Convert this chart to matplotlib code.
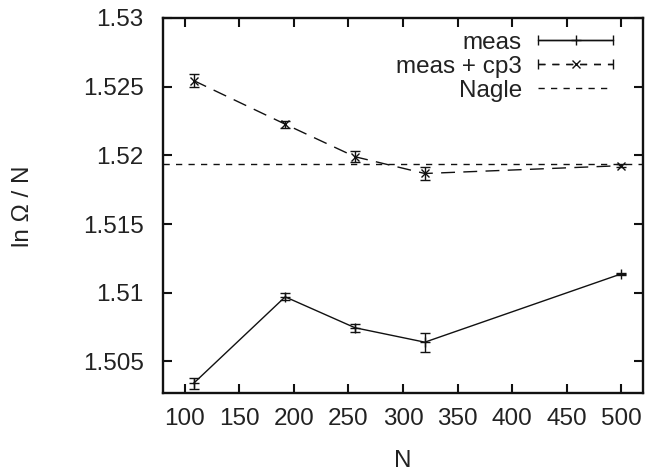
import numpy as np
import matplotlib
matplotlib.use("Agg")
import matplotlib.pyplot as plt
from matplotlib.lines import Line2D
from matplotlib.collections import LineCollection
from matplotlib.container import ErrorbarContainer
from matplotlib.legend_handler import HandlerErrorbar

# ---- data ----
N = [108, 192, 256, 320, 500]
meas = [1.5034, 1.5097, 1.50745, 1.5064, 1.51137]
meas_err = [0.0004, 0.00025, 0.0003, 0.0007, 0.0001]
cp3 = [1.52545, 1.52227, 1.5199, 1.51868, 1.51925]
cp3_err = [0.0005, 0.00025, 0.0004, 0.0005, 0.0001]
nagle = 1.51940
xticks = [100, 150, 200, 250, 300, 350, 400, 450, 500]
yticks = [1.505, 1.51, 1.515, 1.52, 1.525, 1.53]
ytick_labels = ["1.505", "1.51", "1.515", "1.52", "1.525", "1.53"]
labels = ["meas", "meas + cp3", "Nagle"]

plt.rcParams['font.family'] = ['Liberation Sans', 'DejaVu Sans']
FS = 17.5
W, H = 648, 472

fig = plt.figure(figsize=(W / 100, H / 100), dpi=100)
ax = fig.add_axes([163 / W, 1 - 393 / H, (643 - 163) / W, (393 - 18) / H])

k = '#111111'
tc = '#222222'
ax.errorbar(N, meas, yerr=meas_err, color=k, lw=1.0, marker='+', ms=7,
            mew=1.0, capsize=3.6, elinewidth=1.0, capthick=1.0)
ax.errorbar(N, cp3, yerr=cp3_err, color=k, lw=1.0, ls=(0, (10, 6)), marker='x',
            ms=6, mew=1.0, capsize=3.6, elinewidth=1.0, capthick=1.0)
ax.axhline(nagle, color=k, lw=1.0, ls=(0, (4.5, 4.5)))

ax.set_xlim(80, 520)
ax.set_ylim(1.5027, 1.53)
ax.set_xticks(xticks)
ax.set_yticks(yticks)
ax.set_yticklabels(ytick_labels)
ax.tick_params(direction='in', length=6.5, width=1.5, top=True, right=True,
               labelsize=FS, colors=k, labelcolor=tc)
ax.tick_params(axis='y', pad=14)
ax.tick_params(axis='x', pad=11)
for s in ax.spines.values():
    s.set_linewidth(1.7)
    s.set_color(k)

fig.text(403 / W, 1 - 467 / H, "N", fontsize=FS, color=tc,
         ha='center', va='baseline')
fig.text(23 / W, 1 - 206 / H, "ln Ω / N", fontsize=FS, color=tc,
         ha='center', va='center', rotation=90)

# legend handles (gnuplot style: horizontal line with end caps)
def make_proxy(ls, marker, ms, label):
    pl = Line2D([], [], color=k, lw=1.0, ls=ls, marker=marker, ms=ms, mew=1.0)
    cap = Line2D([], [], color=k, marker='|', ms=7, mew=1.0, ls='None')
    bc = LineCollection([], colors=k, linewidths=1.0, linestyles=[ls])
    return ErrorbarContainer((pl, (cap, cap), (bc,)), has_xerr=True,
                             has_yerr=False, label=label)

h1 = make_proxy('-', '+', 7, labels[0])
h2 = make_proxy((0, (5, 5)), 'x', 6, labels[1])
h3 = Line2D([], [], color=k, lw=1.0, ls=(0, (4.5, 4.5)), label=labels[2])

HL = 54 / FS
leg = fig.legend(handles=[h1, h2, h3], loc='upper right', frameon=False,
                 markerfirst=False, fontsize=FS, handlelength=HL,
                 handletextpad=11.5 / FS, labelspacing=0.09, borderaxespad=0,
                 borderpad=0, numpoints=1,
                 bbox_to_anchor=(613 / W, 1 - 31.5 / H),
                 handler_map={ErrorbarContainer: HandlerErrorbar(xerr_size=HL / 2)})
for t in leg.get_texts():
    t.set_color(tc)

fig.savefig("out.png", dpi=100)
